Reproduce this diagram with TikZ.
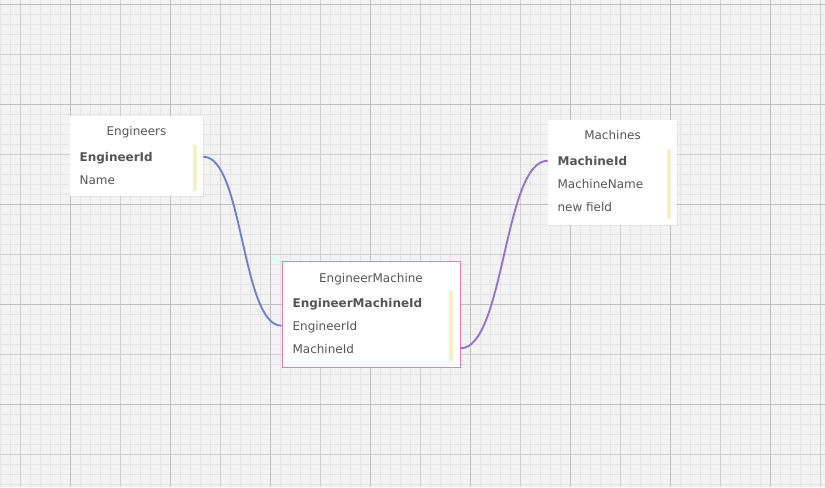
\documentclass[tikz,border=0pt]{standalone}
\usepackage{fontspec}
\setmainfont{DejaVu Sans}
\usepackage{xcolor}
\usetikzlibrary{shadows}

\definecolor{gridbg}{HTML}{F3F3F3}
\definecolor{gridminor}{HTML}{E5E5E5}
\definecolor{gridmid}{HTML}{CFCFCF}
\definecolor{gridmajor}{HTML}{C0C0C0}
\definecolor{fieldtext}{HTML}{555555}
\definecolor{barcolor}{HTML}{F4F1C4}
\definecolor{pinkborder}{HTML}{F07AA8}
\definecolor{linkblue}{HTML}{6F80CC}
\definecolor{linkpurple}{HTML}{9473CC}

\begin{document}
\begin{tikzpicture}[
    x = 0.75pt,
    y = -0.75pt,
    tablebox/.style   = {fill=white, inner sep=0pt,
                         drop shadow={opacity=0.12, shadow xshift=0.4pt, shadow yshift=-0.8pt}},
    tabletitle/.style = {font=\fontsize{9}{11}\selectfont, text=fieldtext, inner sep=0pt,
                         text height=8.4pt, text depth=0.5pt},
    field/.style      = {tabletitle, anchor=west},
    keyfield/.style   = {field, font=\fontsize{9}{11}\selectfont\bfseries},
    keybar/.style     = {fill=barcolor, inner sep=0pt, minimum width=3pt},
    link/.style       = {line width=1.4pt}
  ]
\useasboundingbox (0,0) rectangle (825,487);

% grid
\fill[gridbg] (0,0) rectangle (825,487);
\foreach \x in {0.5,10.5,...,824.5} \draw[gridminor, line width=0.75pt] (\x,0) -- (\x,487);
\foreach \y in {4,14,...,484} \draw[gridminor, line width=0.75pt] (0,\y) -- (825,\y);
\foreach \x in {20.5,70.5,...,820.5} \draw[gridmid, line width=0.75pt] (\x,0) -- (\x,487);
\foreach \y in {4,54,...,454} \draw[gridmid, line width=0.75pt] (0,\y) -- (825,\y);
\foreach \x in {70.5,170.5,...,770.5} \draw[gridmajor, line width=0.75pt] (\x,0) -- (\x,487);
\foreach \y in {4,104,...,404} \draw[gridmajor, line width=0.75pt] (0,\y) -- (825,\y);

% tables
\node[tablebox, minimum width=133*0.75pt, minimum height=80*0.75pt] (engineers) at (136.5,156) {};
\node[tabletitle] (engineerstitle) at (136.5,130.7) {Engineers};
\node[keyfield] (engineerid) at (79.3,156.7) {EngineerId};
\node[field] (engname) at (79.3,179.3) {Name};
\node[keybar, minimum height=46*0.75pt] (engineersbar) at (194.7,168) {};

\node[tablebox, minimum width=129*0.75pt, minimum height=104.5*0.75pt] (machines) at (612.5,172.25) {};
\node[tabletitle] (machinestitle) at (612.5,134) {Machines};
\node[keyfield] (machineid) at (557.3,160.7) {MachineId};
\node[field] (machinename) at (557.3,183.3) {MachineName};
\node[field] (newfield) at (557.3,206.7) {new field};
\node[keybar, minimum height=69.4*0.75pt] (machinesbar) at (669,184) {};

\node[tablebox, draw=pinkborder, line width=0.75pt, minimum width=178*0.75pt, minimum height=106*0.75pt] (engineermachine) at (371,314) {};
\node[tabletitle] (emtitle) at (371,277) {EngineerMachine};
\node[keyfield] (emid) at (292.3,302.7) {EngineerMachineId};
\node[field] (emengineerid) at (292.3,325.7) {EngineerId};
\node[field] (emmachineid) at (292.3,348.3) {MachineId};
\node[keybar, minimum height=70*0.75pt] (embar) at (451,326) {};

% links
\draw[link, linkblue] (engineers.east |- engineerid) .. controls +(40,0) and +(-40,0) .. (engineermachine.west |- emengineerid);
\draw[link, linkpurple] (engineermachine.east |- emmachineid) .. controls +(44,0) and +(-44,0) .. (machines.west |- machineid);

\end{tikzpicture}
\end{document}
